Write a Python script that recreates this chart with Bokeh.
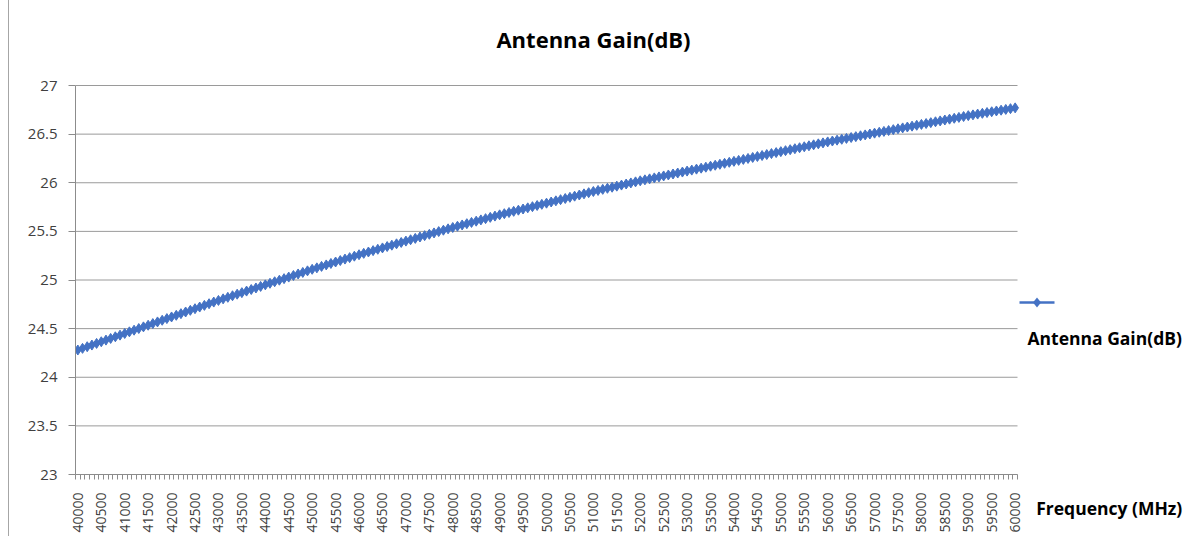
import math
from bokeh.plotting import figure
from bokeh.models import FixedTicker, Label, PolyAnnotation, NumeralTickFormatter, Range1d
from bokeh.embed import file_html
from bokeh.resources import INLINE

# ---- data ----
freq_mhz = list(range(40000, 60001, 100))
gain_db = [
    24.280, 24.297, 24.314, 24.331, 24.348, 24.365, 24.382, 24.399, 24.416, 24.433,
    24.450, 24.467, 24.484, 24.501, 24.518, 24.535, 24.552, 24.569, 24.586, 24.603,
    24.620, 24.637, 24.654, 24.671, 24.688, 24.705, 24.722, 24.739, 24.756, 24.773,
    24.790, 24.806, 24.822, 24.838, 24.854, 24.870, 24.886, 24.902, 24.918, 24.934,
    24.950, 24.966, 24.982, 24.998, 25.014, 25.030, 25.046, 25.062, 25.078, 25.094,
    25.110, 25.125, 25.140, 25.155, 25.170, 25.185, 25.200, 25.215, 25.230, 25.245,
    25.260, 25.274, 25.288, 25.302, 25.316, 25.330, 25.344, 25.358, 25.372, 25.386,
    25.400, 25.414, 25.428, 25.442, 25.456, 25.470, 25.484, 25.498, 25.512, 25.526,
    25.540, 25.553, 25.566, 25.579, 25.592, 25.605, 25.618, 25.631, 25.644, 25.657,
    25.670, 25.682, 25.694, 25.706, 25.718, 25.730, 25.742, 25.754, 25.766, 25.778,
    25.790, 25.802, 25.814, 25.826, 25.838, 25.850, 25.862, 25.874, 25.886, 25.898,
    25.910, 25.921, 25.932, 25.943, 25.954, 25.965, 25.976, 25.987, 25.998, 26.009,
    26.020, 26.030, 26.040, 26.050, 26.060, 26.070, 26.080, 26.090, 26.100, 26.110,
    26.120, 26.130, 26.140, 26.150, 26.160, 26.170, 26.180, 26.190, 26.200, 26.210,
    26.220, 26.230, 26.240, 26.250, 26.260, 26.270, 26.280, 26.290, 26.300, 26.310,
    26.320, 26.330, 26.340, 26.350, 26.360, 26.370, 26.380, 26.390, 26.400, 26.410,
    26.420, 26.429, 26.438, 26.447, 26.456, 26.465, 26.474, 26.483, 26.492, 26.501,
    26.510, 26.519, 26.528, 26.537, 26.546, 26.555, 26.564, 26.573, 26.582, 26.591,
    26.600, 26.609, 26.618, 26.627, 26.636, 26.645, 26.654, 26.663, 26.672, 26.681,
    26.690, 26.698, 26.706, 26.714, 26.722, 26.730, 26.738, 26.746, 26.754, 26.762,
    26.770,
]
y_ticks = [23, 23.5, 24, 24.5, 25, 25.5, 26, 26.5, 27]
x_label_ticks = list(range(40000, 60001, 500))
chart_title = "Antenna Gain(dB)"
series_name = "Antenna Gain(dB)"
x_title = "Frequency (MHz)"

BLUE = "#4472C4"
FONT = "Open Sans"
GRID = "#9a9a9a"
AXIS = "#8c8c8c"

# layout (pixels)
W, H = 1185, 536
BL, BR, BT, BB = 66, 8, 0, 62
frame_w = W - BL - BR
frame_h = H - BT - BB
data_w = 942   # width of the category area inside the frame
data_h = 389   # height of the value area inside the frame

step = 100
x_lo = freq_mhz[0] - step / 2
x_hi = freq_mhz[-1] + step / 2
x_view_end = x_lo + (x_hi - x_lo) * frame_w / data_w
x_bounds = [x_lo + step * k for k in range(len(freq_mhz) + 1)]
y_lo, y_hi = y_ticks[0], y_ticks[-1]
y_view_end = y_lo + (y_hi - y_lo) * frame_h / data_h

p = figure(width=W, height=H, output_backend="svg", toolbar_location=None,
           x_range=Range1d(x_lo, x_view_end),
           y_range=Range1d(y_lo, y_view_end),
           min_border_left=BL, min_border_right=BR, min_border_top=BT, min_border_bottom=BB)
p.styles = {"margin-left": "8px", "border-left": "1px solid #a6a6a6"}
p.outline_line_color = None
p.background_fill_color = "white"
p.border_fill_color = "white"

# y axis
p.yaxis.bounds = (y_lo, y_hi)
p.yaxis.ticker = FixedTicker(ticks=y_ticks)
p.yaxis.formatter = NumeralTickFormatter(format="0.[0]")
p.yaxis.axis_line_color = AXIS
p.yaxis.major_tick_line_color = AXIS
p.yaxis.major_tick_out = 7
p.yaxis.major_tick_in = 0
p.yaxis.minor_tick_line_color = None
p.yaxis.major_label_standoff = 11
p.yaxis.major_label_text_font = FONT
p.yaxis.major_label_text_font_size = "15px"
p.yaxis.major_label_text_color = "#404040"

# x axis (category ticks at bin boundaries, labels every 500 MHz)
p.xaxis.bounds = (x_lo, x_hi)
p.xaxis.ticker = FixedTicker(ticks=x_label_ticks, minor_ticks=x_bounds)
p.xaxis.formatter = NumeralTickFormatter(format="0")
p.xaxis.major_label_orientation = math.pi / 2
p.xaxis.axis_line_color = AXIS
p.xaxis.major_tick_line_color = None
p.xaxis.major_tick_out = 0
p.xaxis.major_tick_in = 0
p.xaxis.minor_tick_line_color = AXIS
p.xaxis.minor_tick_out = 5
p.xaxis.minor_tick_in = 0
p.xaxis.major_label_standoff = 13
p.xaxis.major_label_text_font = FONT
p.xaxis.major_label_text_font_size = "14px"
p.xaxis.major_label_text_color = "#404040"
# axis title sits to the right of the tick labels; the label is centred on the
# axis end, so pad it with non-breaking spaces to shift the visible text left
p.xaxis.axis_label = x_title + "\u00a0" * 34
p.xaxis.axis_label_align = "end"
p.xaxis.axis_label_standoff = -40
p.xaxis.axis_label_text_font = FONT
p.xaxis.axis_label_text_font_size = "17.5px"
p.xaxis.axis_label_text_font_style = "bold"
p.xaxis.axis_label_text_color = "#000000"

p.xgrid.grid_line_color = None
p.ygrid.grid_line_color = None

# horizontal gridlines limited to the category area
p.segment(x0=[x_lo] * len(y_ticks), x1=[x_hi] * len(y_ticks), y0=y_ticks, y1=y_ticks,
          line_color=GRID, line_width=1)

p.line(freq_mhz, gain_db, line_color=BLUE, line_width=2.5)
p.scatter(freq_mhz, gain_db, marker="diamond", size=10, fill_color=BLUE, line_color=BLUE)

# chart title (frame-relative screen units; frame spans the full top of the canvas)
p.add_layout(Label(x=518, y=frame_h - 38, x_units="screen", y_units="screen", text=chart_title,
                   text_font=FONT, text_font_size="22px", text_font_style="bold",
                   text_color="#000000", text_baseline="middle", text_align="center"))

# legend: glyph line + diamond, text below it
lx0, lx1, ly = 944, 979, 172
cx = (lx0 + lx1) / 2
p.add_layout(PolyAnnotation(xs=[lx0, lx1, lx1, lx0], ys=[ly + 1.2, ly + 1.2, ly - 1.2, ly - 1.2],
                            xs_units="screen", ys_units="screen",
                            fill_color=BLUE, fill_alpha=1, line_color=None))
p.add_layout(PolyAnnotation(xs=[cx - 4, cx, cx + 4, cx], ys=[ly, ly + 5, ly, ly - 5],
                            xs_units="screen", ys_units="screen",
                            fill_color=BLUE, fill_alpha=1, line_color=None))
p.add_layout(Label(x=952, y=137, x_units="screen", y_units="screen", text=series_name,
                   text_font=FONT, text_font_size="17.5px", text_font_style="bold",
                   text_color="#000000", text_baseline="middle", text_align="left"))

open("out.html", "w").write(file_html(p, INLINE))
